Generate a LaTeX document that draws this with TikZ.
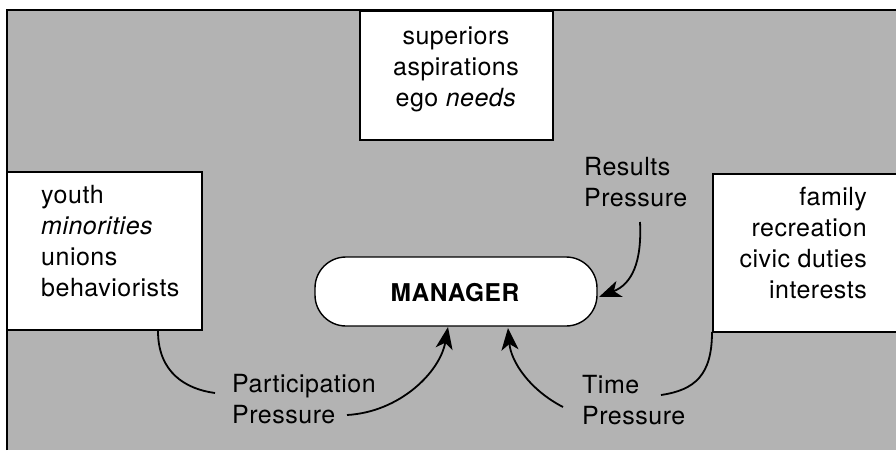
\documentclass[tikz,border=0pt]{standalone}
\usepackage{fontspec}
\setmainfont[LetterSpace=2]{TeX Gyre Heros}
\usetikzlibrary{arrows.meta}

\definecolor{paper}{HTML}{B3B3B3}

\tikzset{
  panel/.style={draw=black, fill=white, line width=1.4pt, rectangle, inner sep=0pt},
  words/.style={inner sep=0pt, font={\fontsize{25}{31}\selectfont}},
  link/.style={line width=1.8pt},
  push/.style={link, -{Stealth[length=22pt,width=17pt,inset=6pt]}},
}

\begin{document}
\begin{tikzpicture}[x=1pt, y=-1pt]
  \useasboundingbox (0,0) rectangle (896,450);

  % shaded field with its frame on the left and top
  \fill[paper] (7,10) rectangle (896,450);
  \draw[line width=1.4pt] (7,450) -- (7,10) -- (896,10);

  % boxes of outside demands
  \node[panel, minimum width=193pt, minimum height=129pt] (sup) at (456.5,75.5) {};
  \node[panel, minimum width=195pt, minimum height=158pt] (lb) at (104.5,251) {};
  \node[panel, minimum width=186pt, minimum height=158pt] (rb) at (806,253) {};

  % the manager in the middle
  \node[panel, rounded corners=31pt, minimum width=282pt, minimum height=69pt] (mgr) at (456,291.5) {};
  \node[words, font={\fontsize{24.5}{31}\selectfont\bfseries}, anchor=base] (mgrt) at (455,301) {MANAGER};

  % box texts
  \node[words, align=center, anchor=north] (supt) at (456,22.3)
    {superiors\strut\\aspirations\strut\\ego \textit{needs}\strut};
  \node[words, align=left, anchor=north west] (lbt) at (41,181.3)
    {youth\strut\\\textit{minorities}\strut\\unions\strut\\behaviorists\strut};
  \node[words, align=right, anchor=north east] (rbt) at (867,183.3)
    {family\strut\\recreation\strut\\civic duties\strut\\interests\strut};

  % pressure labels
  \node[words, align=left, anchor=north west] (res) at (584,153.3)
    {Results\strut\\Pressure\strut};
  \node[words, align=left, anchor=north west] (part) at (232,370.3)
    {Participation\strut\\Pressure\strut};
  \node[words, align=left, anchor=north west] (time) at (582,371.3)
    {Time\strut\\Pressure\strut};

  % connector end points
  \coordinate (lbfoot) at (158,331);
  \coordinate (parttop) at (215,393);
  \coordinate (partlow) at (347,415);
  \coordinate (mgrleft) at (448,327);
  \coordinate (rbfoot) at (712,332);
  \coordinate (timetop) at (661,395);
  \coordinate (timelow) at (563,407);
  \coordinate (mgrright) at (508,328);
  \coordinate (resfoot) at (640,222);
  \coordinate (mgrside) at (599,297);

  % participation pressure
  \draw[link] (lbfoot) .. controls (158,372) and (185,389) .. (parttop);
  \draw[push] (partlow) .. controls (400,412) and (440,372) .. (mgrleft);

  % time pressure
  \draw[link] (rbfoot) .. controls (712,375) and (695,390) .. (timetop);
  \draw[push] (timelow) .. controls (530,390) and (511,362) .. (mgrright);

  % results pressure
  \draw[push] (resfoot) .. controls (642,262) and (632,284) .. (mgrside);
\end{tikzpicture}
\end{document}
